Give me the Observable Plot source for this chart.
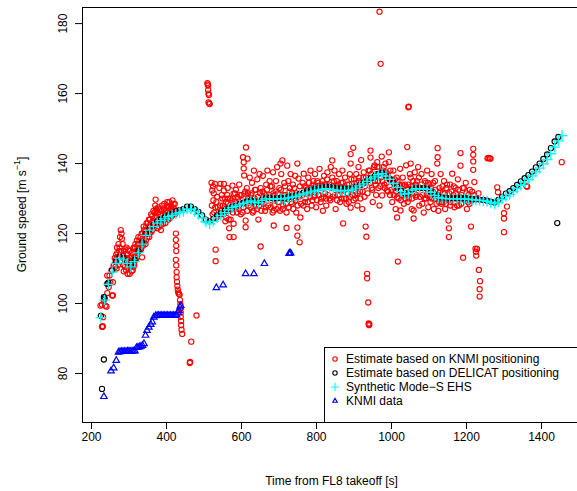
<!DOCTYPE html>
<html><head><meta charset="utf-8">
<script src="https://cdn.jsdelivr.net/npm/d3@7"></script>
<script src="https://cdn.jsdelivr.net/npm/@observablehq/plot@0.6"></script>
<style>html,body{margin:0;padding:0;background:#fff;overflow:hidden;width:577px;height:491px}</style>
</head><body><div id="chart"></div>
<script>
const xTicks = [200, 400, 600, 800, 1000, 1200, 1400];
const yTicks = [80, 100, 120, 140, 160, 180];
const xDomain = [176, 1504];
const yDomain = [66, 184.6];
const xTitle = "Time from FL8 takeoff [s]";
const legendLabels = ["Estimate based on KNMI positioning", "Estimate based on DELICAT positioning", "Synthetic Mode\u2212S EHS", "KNMI data"];

// Synthetic Mode-S EHS, sampled every 10 s from 225 s
const synthStart = 225, synthStep = 10;
const synthSpeed = [
  96,101,105.5,109,111.5,113,112.5,111.5,110.5,112,
  114.5,117,119.5,121,122,123,123.7,124.2,124.8,125.2,
  125.6,126,126.3,127,127,126.3,125.5,124.5,123.3,122.8,
  123.5,124.5,125.2,126,126.8,127.4,127.8,128.2,128.6,129,
  129.3,129,128.8,129.5,129.9,130,129.8,129.9,130,129.9,
  130.2,130.4,130.6,131,131.3,131.6,131.9,132.2,132.4,132.6,
  132.8,132.7,132.5,132.3,132.3,132.2,132.3,132.5,133,133.6,
  134.2,134.9,135.6,136.2,136.8,137.1,136.4,135.5,134.3,133.2,
  132,131.3,131.5,132.4,132.8,132.8,132.8,132.6,131.8,130.9,
  130.3,130.1,130,129.9,129.9,129.9,129.9,129.9,129.8,129.7,
  129.6,129.5,129.4,129.2,128.8,128.5,129,129.8,130.6,131.2,
  132,132.9,133.8,134.7,135.5,136.5,137.6,138.7,139.9,141.1,
  142.8,144.7,146.5,148
];

// Estimate based on DELICAT positioning, sampled every 10 s from 225 s
const delicatStart = 225, delicatStep = 10;
const delicatSpeed = [
  96.5,101.5,106,109.5,112,113.4,113,112,111,112.5,
  115,117.5,120,121.4,122.4,123.4,124.1,124.6,125.2,125.6,
  126.3,126.7,127,127.7,127.7,127,126.2,125.2,124,123.5,
  124.2,125.2,125.8,126.5,127.1,127.6,128,128.4,128.8,129.2,
  129.5,129.2,129,129.7,130.1,130.2,130,130.1,130.2,130.1,
  130.4,130.6,130.9,131.3,131.7,132.1,132.4,132.7,133,133.2,
  133.4,133.3,133.1,132.9,132.9,132.8,132.8,132.9,133.3,133.8,
  134.4,135.1,135.8,136.4,137,137.3,136.6,135.7,134.5,133.4,
  132.2,131.5,131.7,132.6,133,133,133,132.8,132,131.1,
  130.5,130.3,130.2,130.1,130.1,130.1,130.1,130.1,130,129.9,
  129.8,129.7,129.6,129.4,129.1,128.9,129.6,130.5,131.4,132.1,
  133,133.9,134.9,135.8,136.7,137.7,138.9,140,141.3,142.6,
  144.4,146.3,147.6
];
const delicatExtra = [[233,84],[228,75.6],[1442,123],[233,101.8],[242,105.6]];

// KNMI data [time, speed]
const knmiData = [[233,73.4],[252,80.7],[259,81.6],[266,83.7],[272,86.1],[276,86.2],[280,86.3],[284,86.3],[288,86.3],[292,86.3],[296,86.4],[300,86.4],[304,86.3],[308,86.4],[312,86.4],[316,86.4],[320,87.4],[324,87.5],[328,87.6],[332,87.8],[336,88.0],[340,88.5],[344,90.9],[348,92.3],[353,93.2],[358,94.0],[362,94.7],[366,96.1],[371,96.5],[375,96.6],[379,96.6],[383,96.6],[387,96.6],[391,96.6],[395,96.6],[399,96.6],[403,96.6],[407,96.6],[411,96.6],[415,96.6],[419,96.6],[423,96.6],[427,96.7],[431,97.5],[433,98.0],[436,99.0],[438,99.4],[533,104.5],[551,105.3],[611,108.5],[633,108.5],[661,111.4],[727,114.3],[729,114.4],[731,114.4]];

// Estimate based on KNMI positioning [time, speed] – scattered readings
const knmiEstimate = [
[228,93.4],[229,93.3],[230,93.5],[231,96.1],[228,99.7],[224,99.4],[233,101],[237,99.4],[240,99.1],[242,103],[242,108],[246,104.7],[248,108],[250,106],[253,109.5],[255,102.3],[257,106.1],[257,102.3],[259,110.9],[260,111],[262,113],[264,110.5],
[266,114],[268,116],[270,113],[272,117],[274,115],[276,119],[278,121],[280,120],[281,118.5],[283,117],[284,114],[285,111],[286,109.2],[288,113],[290,115.5],[291,112],[293,116],[295,114],[297,111],[299,112.5],[301,115],[303,113],[305,110.5],[307,109.2],[309,112],[311,114],[313,116],[315,113.5],[317,117],[319,115],[321,118],[323,116],[325,119],[327,117],[329,115.5],
[331,119],[333,117.5],[335,113.2],[336,120],[338,118],[340,121],[342,119.5],[344,117],[346,122],[348,120],[350,123],[352,121],[354,119],[356,124],[358,122],[360,120.5],[362,125],[364,123],[366,121.5],[368,126],[370,128],[371,129.7],[372,127],[373,125],[375,123.5],[377,126],[379,124],[381,122],[383,125.5],[385,121],[387,126.5],[389,124],[391,122.8],[393,127],[395,125],[397,123],[399,126.5],[401,128],[403,126],[405,124],[407,127.5],[409,125.5],[411,126.6],[413,128],[415,126],[417,127],[419,128.5],[421,127],[423,125.5],
[425,120],[425,118.2],[426,116.5],[426,115],[425,112.5],[426,110.9],[427,109],[427,107.5],[428,106.2],[429,105],[430,104],[431,103.2],[433,102.8],[435,102.5],[436,101],[437,99.8],[437,98.5],[438,97.4],[438,96.2],[439,95],[439,93.8],[440,92.5],[442,91.3],[480,96.6],[466,89.1],[463,83.3],[462,83],
[509,163],[510,162.6],[511,162.3],[511,161],[512,160],[513,159.6],[512,157.5],[514,157.2],[515,157],[531,115.4],[531,112.1],
[520,134.5],[522,132.3],[524,133.5],[526,131.5],[529,134.2],[533,129],[537,127.5],[541,133],[544,134.2],[547,131],[550,128],[553,134.2],[553,132.3],[556,130],[558,127],[560,124.5],[562,131],[564,128.6],[566,126.6],[566,124],[567,121.5],[568,119],[570,130],[573,127],[576,133.7],[579,131.4],[579,122.8],[579,119],[582,129],[585,132.5],[588,126],[591,130],[594,134],[597,128.5],[600,131],[603,126],[604,141.8],[606,140.4],[606,138.6],[607,136.6],[608,131.4],[609,128.6],[611,123.7],[611,121.8],[612,144.6],[614,133],[616,141.4],[618,130],
[622,136],[625,131],[628,134.5],[630,126],[633,138],[636,132.5],[639,128],[642,135.5],[645,124],[648,137],[651,116.3],[651,133],[654,129],[657,136.5],[660,131.5],[663,126.5],[666,134],[669,138],[672,130.5],[675,135],[678,127.5],[681,133.5],[684,137.5],[686,126.6],[686,122.3],[689,131],[692,135],[695,139],[698,129],[701,133],[704,140],[706,137],[709,140.9],[711,128],[714,134.5],[717,131],[720,126],[720,121.6],[722,139.4],[725,135],[728,132],[731,137],[734,128.5],[737,134],[740,130],[743,136.5],[746,126],[749,140],[749,121.7],[749,119.4],[752,135.7],[755,117.5],[757,124.6],[760,131],[763,134.5],[766,137.1],[769,129],[772,133],[775,127],[778,136],[781,131.5],[784,138],[787,128],[790,134],[793,130.5],[796,137],[799,127.5],[802,135],[805,131],[808,138.5],[811,129],[814,134],[817,126.5],[820,136.5],[823,131.5],[826,128],[829,137.5],[832,133.5],[835,130],[838,139],[842,140.9],[842,136],[845,133],[848,138],[851,127],[854,135],[857,131],[860,137],[863,129],[866,134.5],[869,138],[871,122.9],[873,132.3],[876,136],[879,130],[882,134],[886,129],[889,137],[891,142.7],[891,140],[891,127.4],[894,133],[898,144.5],[900,135.5],
[903,131],[906,137],[909,128],[912,139],[913,135],[916,132],[919,141],[922,127],[925,136],[928,130.5],[931,122],[933,119.1],[935,108.5],[935,107.2],[938,100.3],[939,94.3],[940,93.8],[941,94.1],[942,138],[944,143.7],[944,141.7],[947,133],[950,129],[953,139],[956,135],[959,131],[962,140.4],[962,139],[965,133],[968,183.4],[971,168.5],[968,128],[971,136],[974,142],[975,130.9],[978,138],[981,134],[984,140],[988,132.3],[990,137],[993,143.2],[993,140.4],[996,131],[999,135.5],[1002,129],[1005,138],[1008,133],[1011,127],[1014,136],[1015,130.3],[1015,124.6],[1017,112],[1020,134],[1023,138.5],[1024,126.6],[1027,131],[1030,136],[1033,128.5],[1036,134],[1039,139.5],[1042,144.7],[1045,156.1],[1046,156.3],[1046,130],[1049,137],[1051,140],[1051,136],[1054,127],[1057,133.5],[1059,126.6],[1059,124.3],[1062,137.5],[1065,130.5],[1068,135],[1071,139],[1074,128],[1077,133],[1080,137],[1083,131],[1086,126],[1089,135],[1092,130],[1095,138],[1098,127.5],
[1101,134],[1104,129],[1107,137],[1110,132],[1113,127],[1116,135],[1119,130],[1122,140],[1123,144.4],[1123,141.8],[1125,126.5],[1128,133],[1131,137],[1134,129],[1137,131.5],[1140,135],[1143,127],[1146,133],[1149,130],[1152,123.7],[1153,121.5],[1153,119],[1156,134],[1159,129],[1162,137.1],[1165,131],[1168,127.5],[1171,133],[1174,130],[1177,135.5],[1180,128],[1184,143],[1184,139.4],[1187,131],[1191,113.1],[1193,133],[1198,134.5],[1201,127],[1205,131],[1208,128.5],[1212,122],[1215,132],[1218,144.2],[1218,142.5],[1218,140.6],[1218,138.2],[1221,134.7],[1224,115.7],[1225,114.8],[1226,113.7],[1228,115.6],[1233,109.6],[1236,106.4],[1235,104.1],[1235,102],
[1256,141.5],[1259,141.6],[1262,141.5],[1264,141.4],[1282,133.2],[1284,131.8],[1300,125.8],[1300,124.3],[1300,120.4],[1308,127.7],[1360,133.5],[1362,133.4],[1454,140.4]
];

// Estimate based on KNMI positioning [time, speed] – readings hugging the reference band
const knmiEstimateBand = [
[265,112.5],[267,110],[269,114.5],[271,111],[273,113.5],[275,116],[277,112],[279,115],[282,113.5],[287,115],[289,110.5],[292,109.5],[294,113],[296,108.5],[298,115.5],[300,110],[302,108.5],[304,112],[306,113.5],[308,114.5],[310,109.5],[312,110.5],[314,111],[316,116],[318,112.5],[320,113],[322,114.5],[324,117],[326,115],[328,118],
[332,115.5],[334,120],[337,116.5],[339,122],[341,117.5],[343,120.5],[345,118],[347,123],[349,119],[351,121.5],[353,124],[355,120],[357,122.5],[359,125.5],[361,121],[363,123.5],[365,126.5],[367,122.5],[369,124.5],[374,126.5],[376,121.5],[378,127.5],[380,123],[382,127],[384,124],[386,122.5],[388,128],[390,125.5],[392,124],[394,128.5],[396,126],[398,124.5],[400,125],[402,129],[404,127.5],[406,125.5],[408,129],[410,124.5],[412,127],[414,125],[416,129.5],[418,125.5],[420,126],[422,128.5],[424,126.5],
[521,128],[523,125.5],[525,129.5],[527,126],[530,127.5],[532,124.5],[535,130.5],[539,125],[543,128],[545,126.5],[549,130],[552,125.5],[555,127.5],[557,123.5],[559,129],[561,126.5],[563,133],[565,130],[569,127],[571,124],[574,129.5],[577,126],[580,128.5],[583,131.5],[586,127.5],[589,130.5],[592,127],[595,131],[598,125.5],[601,129.5],[605,127.5],[610,132],[613,129],[615,126.5],[617,131.5],[619,128],
[621,130],[624,127.5],[627,131.5],[629,129],[632,126.5],[635,130],[638,132.5],[641,127],[644,130.5],[647,128],[650,131.5],[653,126.5],[656,132],[659,128.5],[662,130.5],[665,127.5],[668,132.5],[671,128],[674,131],[677,133.5],[680,129.5],[683,126],[685,131.5],[688,128],[691,132],[694,127],[697,131.5],[700,129],[703,126.5],[705,132.5],[708,130],[710,127],[713,131],[716,133.5],[719,128.5],[723,130.5],[726,127.5],[729,133],[732,129],[735,131.5],[738,127],[741,133],[744,129.5],[747,131.5],[750,128],[753,130.5],[756,133.5],[759,128.5],[762,131],[765,128],[768,133.5],[771,130],[774,132.5],[777,129],[780,134.5],[783,130.5],[786,133],[789,129.5],[792,135],[795,131],[798,133.5],[801,129.5],[804,134.5],[807,131],[810,133],[813,130],[816,135],[819,130.5],[822,134],[825,130],[828,135.5],[831,131],[834,134],[837,129.5],[840,133],[843,130.5],[846,135],[849,131],[852,133.5],[855,129.5],[858,134],[861,131],[864,133],[867,130],[870,134.5],[874,130],[877,133],[880,128.5],[883,131.5],[887,134],[890,130.5],[893,135.5],[896,131],[899,129.5],
[901,133.5],[904,130],[907,134.5],[910,131.5],[914,136],[917,130],[920,134.5],[923,132],[926,137.5],[929,133.5],[932,136],[936,131.5],[939,138],[943,134.5],[946,137],[949,132.5],[952,136],[955,139.5],[958,134],[961,137],[964,135],[967,139],[970,133.5],[973,137.5],[976,135],[979,139],[982,133],[985,137.5],[987,134.5],[991,132],[994,135.5],[997,138],[1000,132.5],[1003,135],[1006,131],[1009,135.5],[1012,132],[1016,135],[1019,130],[1022,133.5],[1025,129.5],[1028,134],[1031,131],[1034,133.5],[1037,130],[1040,132.5],[1043,129],[1045,134],[1048,131.5],[1052,133.5],[1055,130],[1058,135],[1061,131.5],[1064,134],[1067,131],[1070,133.5],[1073,136],[1076,130.5],[1079,134],[1082,128.5],[1085,133],[1088,130],[1091,134.5],[1094,131],[1097,134.5],[1099,131],
[1102,130.5],[1105,133],[1108,130],[1111,134.5],[1114,131],[1117,132.5],[1120,128.5],[1124,131],[1127,129],[1130,132],[1133,128.5],[1136,133.5],[1139,129],[1142,131.5],[1145,128.5],[1148,134],[1151,129.5],[1154,131.5],[1157,128],[1160,132],[1163,130],[1166,133.5],[1169,129],[1172,131.5],[1175,128],[1178,132.5],[1182,130.5],[1186,128.5],[1190,133],[1195,130],[1200,131.5],[1204,129],[1209,132.5],[1214,129.5],[1220,131],[1227,130],[1232,131.5]
];

const W = 577, H = 491;
const mL = 82, mR = -3, mT = 7, mB = 69;
const font = "'Liberation Sans', Arial, Helvetica, sans-serif";

const synth = synthSpeed.map((v, i) => ({t: synthStart + i * synthStep, v}));
const delicat = delicatSpeed.map((v, i) => ({t: delicatStart + i * delicatStep, v}))
  .concat(delicatExtra.map(d => ({t: d[0], v: d[1]})));
const knmiAll = knmiEstimate.concat(knmiEstimateBand);

const plot = Plot.plot({
  width: W, height: H,
  marginLeft: mL, marginRight: mR, marginTop: mT, marginBottom: mB,
  style: {fontFamily: font, fontSize: "12px", background: "white", color: "black", overflow: "hidden"},
  x: {domain: xDomain, range: [mL, W - mR], ticks: xTicks, tickSize: 7, tickPadding: 3, tickFormat: d => String(d), label: null},
  y: {domain: yDomain, range: [H - mB, mT], ticks: yTicks, tickSize: 7, tickFormat: () => "", label: null},
  marks: [
    Plot.dot(knmiAll, {x: d => d[0], y: d => d[1], r: 2.6, stroke: "#ff0000", strokeWidth: 1.1, fill: "none"}),
    Plot.dot(delicat, {x: "t", y: "v", r: 2.6, stroke: "#000000", strokeWidth: 1.1, fill: "none"}),
    Plot.dot(synth, {x: "t", y: "v", symbol: "plus", r: 3.5, stroke: "#00ffff", strokeWidth: 1.3}),
    Plot.dot(knmiData, {x: d => d[0], y: d => d[1], symbol: "triangle2", r: 3.1, stroke: "#0000ff", strokeWidth: 1.2, fill: "none"}),
    Plot.text(yTicks, {y: d => d, text: d => String(d), frameAnchor: "left", dx: -19, rotate: -90, lineAnchor: "middle", textAnchor: "middle", fontSize: 12, fill: "black"}),
    Plot.text([xTitle], {frameAnchor: "bottom", dy: 59, lineAnchor: "middle", fontSize: 12, fill: "black"}),
    Plot.ruleY(yDomain, {stroke: "#000"}),
    Plot.ruleX([xDomain[0]], {stroke: "#000"})
  ]
});
document.getElementById("chart").appendChild(plot);

const svg = d3.select(plot);
// y-axis title with superscript
const yt = svg.append("text")
  .attr("transform", `translate(22,${(mT + H - mB) / 2}) rotate(-90)`)
  .attr("text-anchor", "middle").attr("dominant-baseline", "central")
  .attr("font-family", font).attr("font-size", 12).attr("fill", "black");
yt.append("tspan").text("Ground speed [m s");
yt.append("tspan").attr("dy", -5).attr("font-size", 9).text("\u22121");
yt.append("tspan").attr("dy", 5).text("]");

// legend
const lg = svg.append("g").attr("font-family", font).attr("font-size", 12).attr("text-anchor", "start");
lg.append("rect").attr("x", 324.5).attr("y", 347.5).attr("width", 300).attr("height", 75)
  .attr("fill", "white").attr("stroke", "black");
const rows = [359, 373, 387, 401];
const sym = [
  {type: d3.symbolCircle, color: "#ff0000"},
  {type: d3.symbolCircle, color: "#000000"},
  {type: d3.symbolPlus, color: "#00ffff"},
  {type: d3.symbolTriangle2, color: "#0000ff"}
];
legendLabels.forEach((label, i) => {
  lg.append("path").attr("d", d3.symbol(sym[i].type, i === 2 ? 26 : 15)())
    .attr("transform", `translate(335,${rows[i]})`)
    .attr("fill", "none").attr("stroke", sym[i].color).attr("stroke-width", 1.1);
  lg.append("text").attr("x", 346).attr("y", rows[i]).attr("dominant-baseline", "central")
    .attr("text-anchor", "start").attr("fill", "black").text(label);
});
</script></body></html>
